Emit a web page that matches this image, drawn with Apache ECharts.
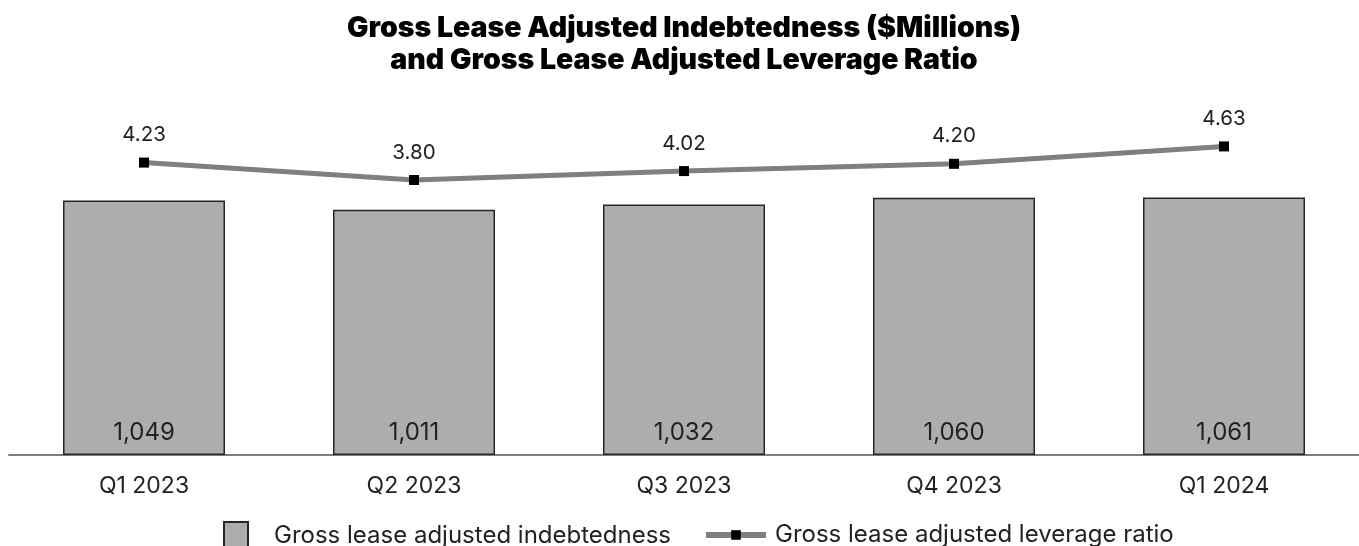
<!DOCTYPE html>
<html>
<head>
<meta charset="utf-8">
<script src="https://cdn.jsdelivr.net/npm/echarts@6/dist/echarts.min.js"></script>
<style>
html,body{margin:0;padding:0;background:#fff;}
#chart{width:1359px;height:546px;}
</style>
</head>
<body>
<div id="chart"></div>
<script>
var categories = ['Q1 2023', 'Q2 2023', 'Q3 2023', 'Q4 2023', 'Q1 2024'];
var indebtedness = [1049, 1011, 1032, 1060, 1061];
var leverage = [4.23, 3.80, 4.02, 4.20, 4.63];
var barName = 'Gross lease adjusted indebtedness';
var lineName = 'Gross lease adjusted leverage ratio';
var titleText = 'Gross Lease Adjusted Indebtedness ($Millions)\nand Gross Lease Adjusted Leverage Ratio';

var FONT = 'Inter';
var chart = echarts.init(document.getElementById('chart'), null, {renderer: 'canvas'});
chart.setOption({
  animation: false,
  backgroundColor: '#ffffff',
  title: {
    text: titleText,
    left: 684,
    top: 12,
    padding: 0,
    textAlign: 'center',
    textStyle: {fontFamily: FONT, fontSize: 28.5, fontWeight: 900, color: '#000', lineHeight: 32}
  },
  legend: [
    {
      data: [barName],
      left: 223, top: 521, padding: 0,
      itemWidth: 24, itemHeight: 28,
      icon: 'rect',
      textStyle: {fontFamily: FONT, fontSize: 24, color: '#222', padding: [0, 0, 0, 21]}
    },
    {
      data: [lineName],
      left: 703, top: 523, padding: 0,
      itemWidth: 60, itemHeight: 12,
      lineStyle: {width: 6, color: '#7f7f7f'},
      textStyle: {fontFamily: FONT, fontSize: 24, color: '#222', padding: [0, 0, 0, 4]}
    }
  ],
  grid: {left: 9, right: -10, top: 91, bottom: 91, containLabel: false},
  xAxis: {
    type: 'category',
    data: categories,
    axisLine: {lineStyle: {color: '#7f7f7f', width: 2}},
    axisTick: {show: false},
    axisLabel: {fontFamily: FONT, fontSize: 23, color: '#222', margin: 20}
  },
  yAxis: [
    {type: 'value', min: 0, max: 1500, show: false, splitLine: {show: false}},
    {type: 'value', min: -3, max: 6, show: false, splitLine: {show: false}}
  ],
  series: [
    {
      name: barName,
      type: 'bar',
      data: indebtedness,
      yAxisIndex: 0,
      barCategoryGap: '40%',
      itemStyle: {color: '#adadad', borderColor: '#262626', borderWidth: 1.5},
      label: {
        show: true, position: 'insideBottom', distance: 10,
        fontFamily: FONT, fontSize: 24, color: '#222',
        formatter: function (p) { return p.value.toLocaleString('en-US'); }
      }
    },
    {
      name: lineName,
      type: 'line',
      data: leverage,
      yAxisIndex: 1,
      symbol: 'rect',
      symbolSize: 10,
      itemStyle: {color: '#000'},
      lineStyle: {color: '#7f7f7f', width: 5},
      label: {
        show: true, position: 'top', distance: 12,
        fontFamily: FONT, fontSize: 20.5, color: '#222',
        formatter: function (p) { return p.value.toFixed(2); }
      }
    }
  ]
});
</script>
</body>
</html>
